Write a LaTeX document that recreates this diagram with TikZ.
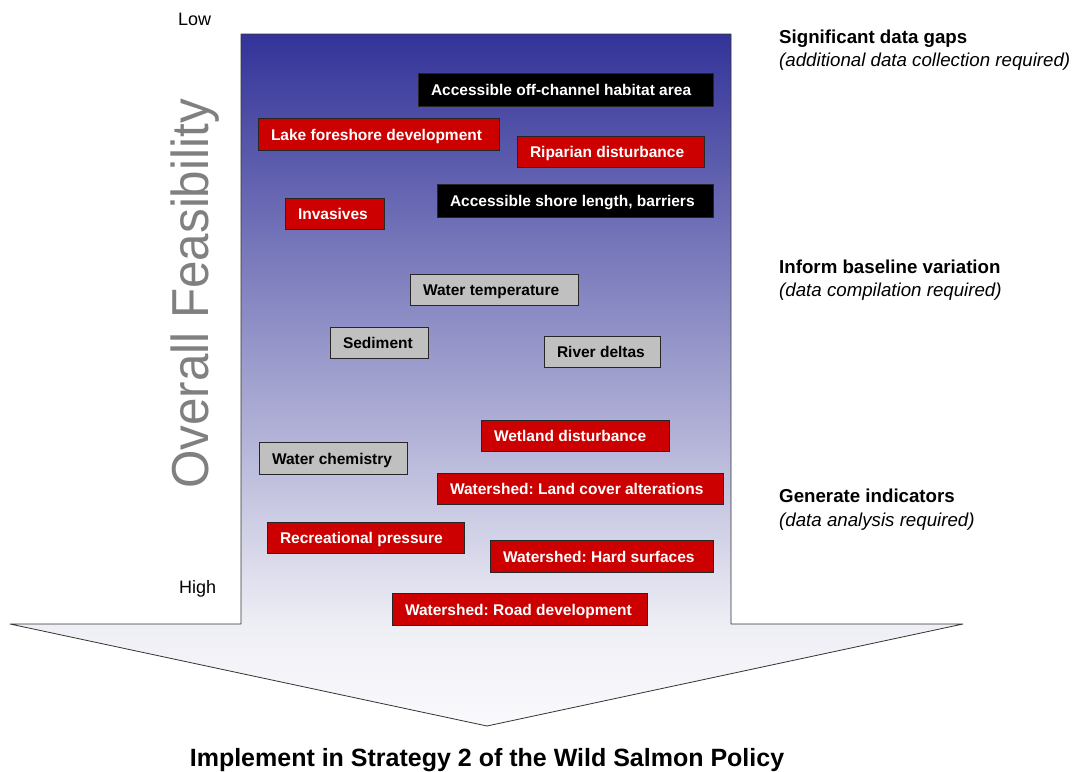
\documentclass[tikz,border=0pt]{standalone}
\usepackage{fontspec}
\setmainfont{Liberation Sans}
\definecolor{boxred}{RGB}{204,0,0}
\definecolor{boxgray}{RGB}{192,192,192}
\definecolor{topblue}{RGB}{51,51,153}
\definecolor{shaftlow}{RGB}{238,238,245}
\definecolor{headlow}{RGB}{250,250,253}
\definecolor{labelgray}{RGB}{128,128,128}
\frenchspacing
\newcommand\mybox[7]{%
  \pgfmathsetmacro\mywd{#5-#3-26}%
  \pgfmathsetmacro\myht{#6-#4}%
  \node[#1, minimum height=\myht pt, anchor=north west] (#2) at (#3,#4) {\makebox[\mywd pt][l]{#7}};}
\tikzset{
  itembox/.style={draw=black!85, line width=0.7pt, inner xsep=13pt, inner ysep=0pt, outer sep=0pt,
    text height=12.6pt, text depth=0pt, font=\bfseries\fontsize{15.5}{18}\selectfont},
  redbox/.style={itembox, fill=boxred, text=white},
  blackbox/.style={itembox, fill=black, text=white},
  graybox/.style={itembox, fill=boxgray, text=black},
  headlabel/.style={anchor=base west, inner sep=0pt, font=\bfseries\fontsize{18.7}{22}\selectfont},
  sublabel/.style={anchor=base west, inner sep=0pt, font=\itshape\fontsize{18.7}{22}\selectfont},
  scalelabel/.style={anchor=base west, inner sep=0pt, font=\fontsize{18}{21}\selectfont},
}
\begin{document}
\begin{tikzpicture}[x=1pt,y=-1pt]
\useasboundingbox (0,0) rectangle (1078,771);
% arrow outline points
\coordinate (sTL) at (241,34);
\coordinate (sTR) at (731,34);
\coordinate (sBR) at (731,624);
\coordinate (hR) at (963,624);
\coordinate (tip) at (487,726);
\coordinate (hL) at (10,624);
\coordinate (sBL) at (241,624);
\shade[top color=topblue, bottom color=shaftlow] (sTL) rectangle (sBR);
\shade[top color=shaftlow, bottom color=headlow] (hL) -- (hR) -- (tip) -- cycle;
\draw[line width=0.8pt, black!80, line join=round] (sTL) -- (sTR) -- (sBR) -- (hR) -- (tip) -- (hL) -- (sBL) -- cycle;

% boxes
\mybox{blackbox}{offch}{418}{73}{713}{106}{Accessible off-channel habitat area}
\mybox{redbox}{lake}{258}{118}{499}{150}{Lake foreshore development}
\mybox{redbox}{ripar}{517}{136}{704}{167}{Riparian disturbance}
\mybox{blackbox}{shore}{437}{184}{713}{217}{Accessible shore length, barriers}
\mybox{redbox}{invas}{285}{198}{384}{229}{Invasives}
\mybox{graybox}{wtemp}{410}{274}{578}{305}{Water temperature}
\mybox{graybox}{sedim}{330}{327}{428}{358}{Sediment}
\mybox{graybox}{delta}{544}{336}{660}{367}{River deltas}
\mybox{redbox}{wetl}{481}{420}{669}{451}{Wetland disturbance}
\mybox{graybox}{wchem}{259}{442}{407}{474}{Water chemistry}
\mybox{redbox}{landc}{437}{473}{723}{504}{Watershed: Land cover alterations}
\mybox{redbox}{recr}{267}{522}{464}{553}{Recreational pressure}
\mybox{redbox}{hard}{490}{540}{713}{572}{Watershed: Hard surfaces}
\mybox{redbox}{road}{392}{593}{647}{625}{Watershed: Road development}

% axis labels
\node[scalelabel] (low) at (178,25) {Low};
\node[scalelabel] (high) at (179,593) {High};
\node[rotate=90, anchor=base, text=labelgray, font=\fontsize{52}{60}\selectfont, inner sep=0pt] (feas) at (208,294) {\scalebox{0.95}[1]{Overall Feasibility}};

% right labels
\node[headlabel] (sig) at (779,43) {Significant data gaps};
\node[sublabel] (sigsub) at (779,66) {(additional data collection required)};
\node[headlabel] (inf) at (779,273) {Inform baseline variation};
\node[sublabel] (infsub) at (779,296) {(data compilation required)};
\node[headlabel] (gen) at (779,502) {Generate indicators};
\node[sublabel] (gensub) at (779,526) {(data analysis required)};

% title
\node[anchor=base, inner sep=0pt, font=\bfseries\fontsize{25}{30}\selectfont] (title) at (487,766) {Implement in Strategy 2 of the Wild Salmon Policy};
\end{tikzpicture}
\end{document}
